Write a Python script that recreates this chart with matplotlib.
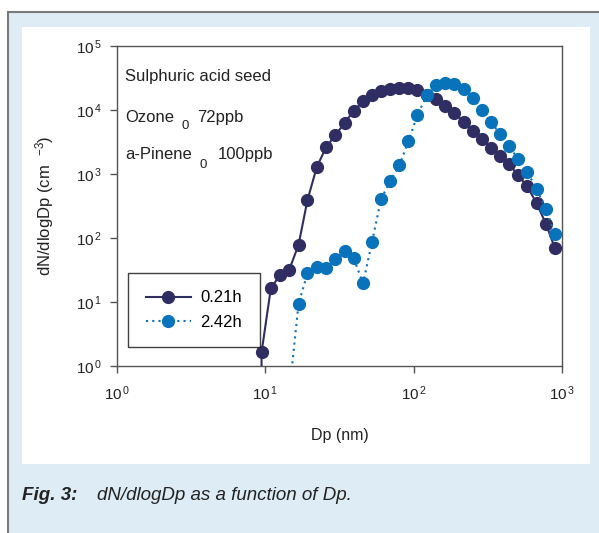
import matplotlib
matplotlib.use("Agg")
import matplotlib.pyplot as plt
from matplotlib.patches import Rectangle
from matplotlib.lines import Line2D

W, H, DPI = 599, 533, 100

# Particle diameter channels (nm)
dp = [8.18, 9.43, 10.89, 12.58, 14.47, 16.74, 19.24, 22.23, 25.67, 29.70,
      34.30, 39.45, 45.57, 52.39, 60.23, 69.26, 80.11, 92.1, 105.9, 122.3,
      140.7, 162.5, 188.0, 217.1, 249.6, 288.4, 331.6, 383.6, 441.0, 507.1,
      583.2, 673.4, 778.1, 894.4]

# dN/dlogDp (cm^-3) at 0.21 h
n_021h = [0, 1.63, 16.3, 26.7, 31.6, 78, 393, 1283, 2612, 4073,
          6280, 9820, 13590, 16870, 19500, 21180, 22200, 22200, 20650, 17300,
          14610, 11590, 9010, 6505, 4700, 3485, 2583, 1909, 1414, 951,
          639, 350, 168, 70]

# dN/dlogDp (cm^-3) at 2.42 h, starting from the 14.47 nm channel
dp_242h = dp[4:]
n_242h = [0.36, 9.4, 28, 35.2, 33.5, 46.4, 62.8, 48.1, 19.5, 86.9,
          404, 766, 1364, 3243, 8290, 16870, 24200, 26600, 25360, 20950,
          15480, 10180, 6440, 4220, 2709, 1694, 1087, 588, 286, 116]

series_labels = ["0.21h", "2.42h"]
x_ticks = [1, 10, 100, 1000]
y_ticks = [1, 10, 100, 1000, 10000, 100000]

NAVY = "#2f2d62"
BLUE = "#0873bb"
PANEL = "#ddecf5"
FONT = "Liberation Sans"

plt.rcParams["font.family"] = [FONT, "DejaVu Sans"]
plt.rcParams["mathtext.fontset"] = "custom"
plt.rcParams["mathtext.rm"] = FONT
plt.rcParams["mathtext.it"] = FONT + ":italic"
plt.rcParams["mathtext.bf"] = FONT + ":bold"


def fx(x):
    return x / W


def fy(y):
    return 1 - y / H


fig = plt.figure(figsize=(W / DPI, H / DPI), dpi=DPI, facecolor="white")

# light blue page panel with grey rules on top and left
fig.patches.append(Rectangle((fx(8), 0), 1 - fx(8), fy(12), transform=fig.transFigure,
                             facecolor=PANEL, edgecolor="none", zorder=0))
fig.add_artist(Line2D([fx(8), 1], [fy(12), fy(12)], transform=fig.transFigure,
                      color="#7a7a7a", lw=1.5, zorder=0.2))
fig.add_artist(Line2D([fx(8), fx(8)], [0, fy(12)], transform=fig.transFigure,
                      color="#7a7a7a", lw=1.5, zorder=0.2))
# white chart area
fig.patches.append(Rectangle((fx(22), fy(464)), fx(590) - fx(22), fy(27) - fy(464),
                             transform=fig.transFigure, facecolor="white",
                             edgecolor="none", zorder=0.5))

ax = fig.add_axes([fx(117), fy(366), fx(562) - fx(117), fy(46) - fy(366)])
ax.set_zorder(2)
ax.set_facecolor("white")
ax.set_xscale("log")
ax.set_yscale("log", nonpositive="clip")
ax.set_xlim(1, 1000)
ax.set_ylim(1, 1e5)

ax.plot(dp, n_021h, color=NAVY, lw=1.5, marker="o", ms=8.5, mfc=NAVY, mec=NAVY,
        label=series_labels[0], zorder=3)
ax.plot(dp_242h, n_242h, color=BLUE, lw=1.5, ls=(0, (1, 2)), marker="o", ms=8.5,
        mfc=BLUE, mec=BLUE, label=series_labels[1], zorder=4)

ax.set_xticks(x_ticks)
ax.set_xticklabels([r"$\mathregular{10^{\,%d}}$" % i for i in range(len(x_ticks))])
ax.set_yticks(y_ticks)
ax.set_yticklabels([r"$\mathregular{10^{\,%d}}$" % i for i in range(len(y_ticks))])
ax.minorticks_off()
ax.tick_params(axis="both", which="major", direction="out", length=5, width=1,
               color="#555555", labelsize=11, labelcolor="#222222")
ax.tick_params(axis="x", pad=8)
ax.tick_params(axis="y", pad=6)
for s in ax.spines.values():
    s.set_color("#555555")
    s.set_linewidth(1.0)

ax.set_xlabel("Dp (nm)", fontsize=11.5, color="#222222", labelpad=18)
ax.set_ylabel(r"dN/dlogDp (cm  $\mathregular{^{-3}}$)", fontsize=12, color="#222222",
              labelpad=14)

leg = ax.legend(loc="upper left", bbox_to_anchor=(fx(128 - 117) / (fx(562) - fx(117)),
                                                  (366 - 273) / 320),
                borderaxespad=0, fontsize=12, handlelength=2.7, handletextpad=0.6,
                borderpad=1.05, labelspacing=0.55, fancybox=False, frameon=True)
leg.get_frame().set_edgecolor("#111111")
leg.get_frame().set_linewidth(1.0)

# experiment conditions
txt = dict(fontsize=12, color="#222222", va="baseline", ha="left")
ax.text(fx(125), fy(81), "Sulphuric acid seed", transform=fig.transFigure, **txt)
ax.text(fx(125), fy(122), "Ozone", transform=fig.transFigure, **txt)
ax.text(fx(182), fy(129), "0", fontsize=9.5, color="#222222", va="baseline",
        transform=fig.transFigure)
ax.text(fx(197), fy(122), "72ppb", transform=fig.transFigure, **txt)
ax.text(fx(125), fy(159), "a-Pinene", transform=fig.transFigure, **txt)
ax.text(fx(200), fy(168), "0", fontsize=9.5, color="#222222", va="baseline",
        transform=fig.transFigure)
ax.text(fx(218), fy(159), "100ppb", transform=fig.transFigure, **txt)

# caption
cap_font = ["Liberation Sans Narrow", FONT]
fig.text(fx(22), fy(500), "Fig. 3:", family=cap_font, fontsize=13.5, style="italic",
         weight="bold", color="#222222", va="baseline")
fig.text(fx(97), fy(500), "dN/dlogDp as a function of Dp.", family=cap_font,
         fontsize=13.5, style="italic", color="#222222", va="baseline")

fig.savefig("out.png", dpi=DPI, facecolor="white")
